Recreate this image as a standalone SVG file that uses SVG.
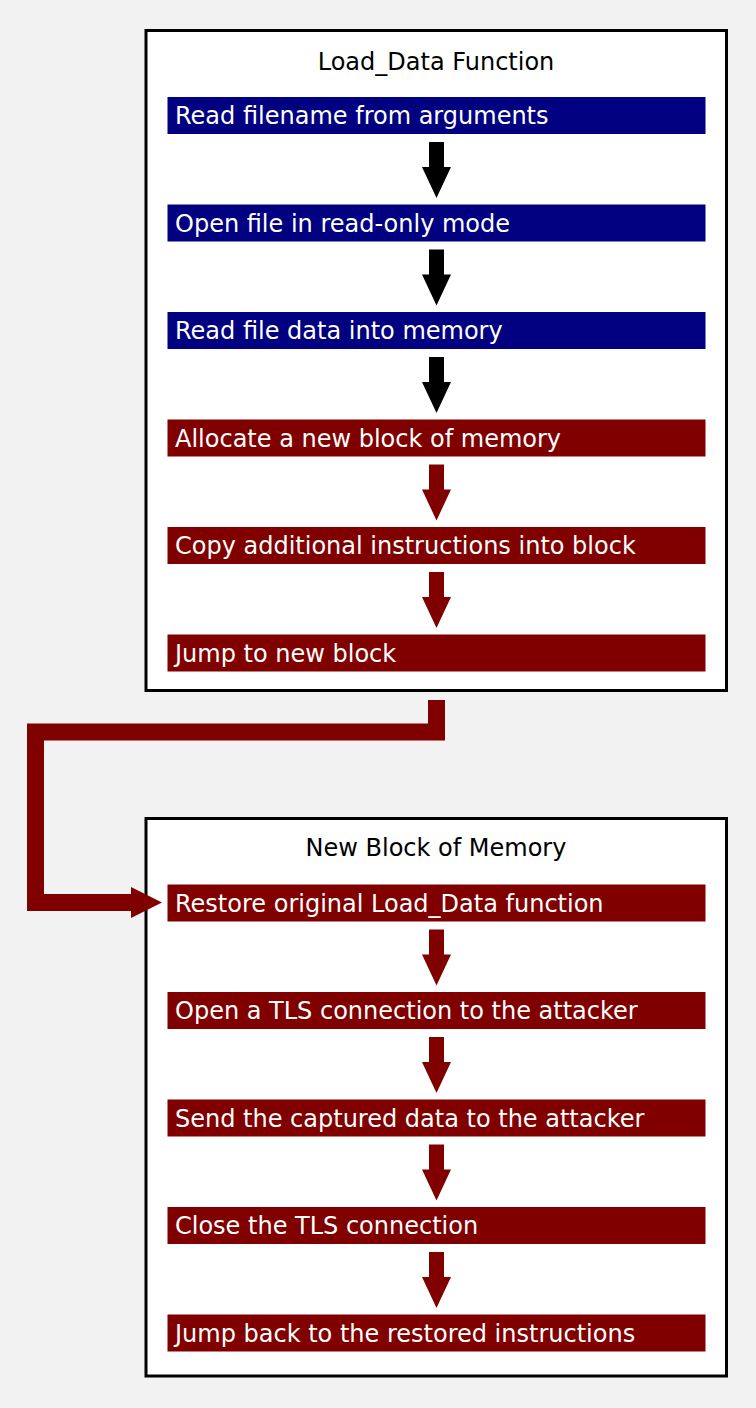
<svg xmlns="http://www.w3.org/2000/svg" width="756" height="1408" viewBox="0 0 756 1408">
<style>
.box{fill:#ffffff;stroke:#000000;stroke-width:3}
.title{font-family:"DejaVu Sans",Verdana,sans-serif;font-size:24px;fill:#000000;text-anchor:middle}
.lbl{font-family:"DejaVu Sans",Verdana,sans-serif;font-size:24px;fill:#ffffff}
.blue{fill:#000080}
.red{fill:#800000}
.ab{fill:#000000}
.ar{fill:#800000}
</style>
<defs>
<path id="arr" d="M-7.5,0 H7.5 V25 H14.5 L0,56 L-14.5,25 H-7.5 Z"/>
</defs>
<rect x="0" y="0" width="756" height="1408" fill="#f2f2f2"/>
<g id="box1">
<rect class="box" x="146" y="30.5" width="580.5" height="660"/>
<text class="title" x="436" y="70">Load_Data Function</text>
</g>
<g id="box2">
<rect class="box" x="146" y="818.5" width="580.5" height="557.5"/>
<text class="title" x="436" y="856">New Block of Memory</text>
</g>
<g id="n1"><rect class="blue" x="167.5" y="97" width="538" height="37"/><text class="lbl" x="175" y="124">Read filename from arguments</text></g>
<g id="n2"><rect class="blue" x="167.5" y="204.5" width="538" height="37"/><text class="lbl" x="175" y="231.5">Open file in read-only mode</text></g>
<g id="n3"><rect class="blue" x="167.5" y="312" width="538" height="37"/><text class="lbl" x="175" y="339">Read file data into memory</text></g>
<g id="n4"><rect class="red" x="167.5" y="419.5" width="538" height="37"/><text class="lbl" x="175" y="446.5">Allocate a new block of memory</text></g>
<g id="n5"><rect class="red" x="167.5" y="527" width="538" height="37"/><text class="lbl" x="175" y="554">Copy additional instructions into block</text></g>
<g id="n6"><rect class="red" x="167.5" y="634.5" width="538" height="37"/><text class="lbl" x="175" y="661.5">Jump to new block</text></g>
<g id="n7"><rect class="red" x="167.5" y="884.5" width="538" height="37"/><text class="lbl" x="175" y="911.5">Restore original Load_Data function</text></g>
<g id="n8"><rect class="red" x="167.5" y="992" width="538" height="37"/><text class="lbl" x="175" y="1019">Open a TLS connection to the attacker</text></g>
<g id="n9"><rect class="red" x="167.5" y="1099.5" width="538" height="37"/><text class="lbl" x="175" y="1126.5">Send the captured data to the attacker</text></g>
<g id="n10"><rect class="red" x="167.5" y="1207" width="538" height="37"/><text class="lbl" x="175" y="1234">Close the TLS connection</text></g>
<g id="n11"><rect class="red" x="167.5" y="1314.5" width="538" height="37"/><text class="lbl" x="175" y="1341.5">Jump back to the restored instructions</text></g>
<g id="connectors">
<use href="#arr" class="ab" x="436.5" y="142"/>
<use href="#arr" class="ab" x="436.5" y="249.5"/>
<use href="#arr" class="ab" x="436.5" y="357"/>
<use href="#arr" class="ar" x="436.5" y="464.5"/>
<use href="#arr" class="ar" x="436.5" y="572"/>
<path d="M436.5,700 V732 H35.5 V902.5 H132" fill="none" stroke="#800000" stroke-width="17" stroke-linejoin="miter"/>
<polygon points="131,887 162,902.5 131,918" fill="#800000"/>
<use href="#arr" class="ar" x="436.5" y="929.5"/>
<use href="#arr" class="ar" x="436.5" y="1037"/>
<use href="#arr" class="ar" x="436.5" y="1144.5"/>
<use href="#arr" class="ar" x="436.5" y="1252"/>
</g>
</svg>
